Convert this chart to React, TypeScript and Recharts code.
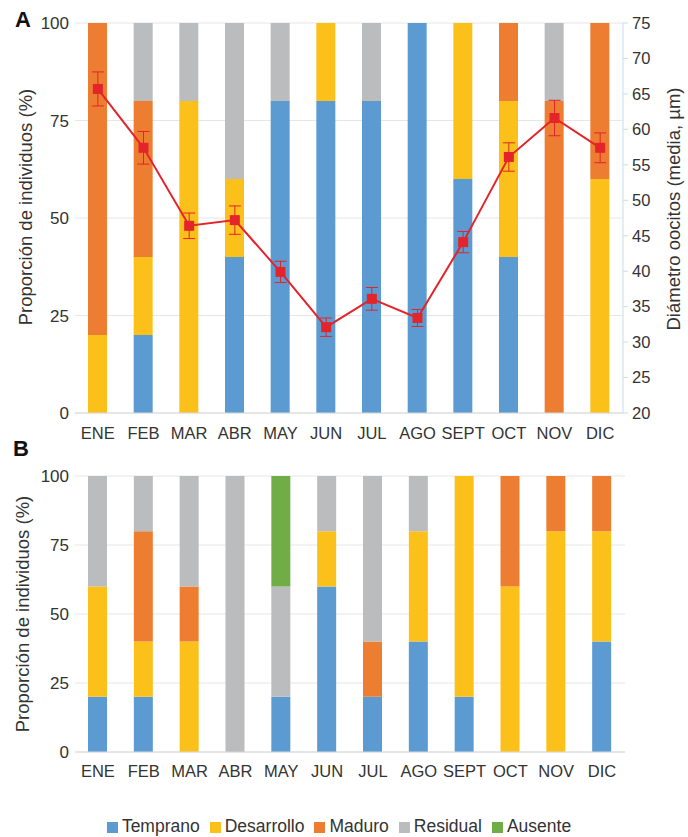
import React from 'react';
import {
  ComposedChart,
  BarChart,
  Bar,
  Line,
  XAxis,
  YAxis,
  CartesianGrid,
  Legend,
  ErrorBar,
} from 'recharts';

const months = ['ENE', 'FEB', 'MAR', 'ABR', 'MAY', 'JUN', 'JUL', 'AGO', 'SEPT', 'OCT', 'NOV', 'DIC'];

// Panel A: proportion per stage (%)
const tempranoA = [0, 20, 0, 40, 80, 80, 80, 100, 60, 40, 0, 0];
const desarrolloA = [20, 20, 80, 20, 0, 20, 0, 0, 40, 40, 0, 60];
const maduroA = [80, 40, 0, 0, 0, 0, 0, 0, 0, 20, 80, 40];
const residualA = [0, 20, 20, 40, 20, 0, 20, 0, 0, 0, 20, 0];
// Panel A: oocyte diameter (mean, µm) and error
const diametro = [65.7, 57.4, 46.4, 47.2, 39.9, 32.1, 36.1, 33.4, 44.1, 56.1, 61.6, 57.4];
const diametroErr = [2.4, 2.3, 1.8, 2.0, 1.5, 1.3, 1.6, 1.2, 1.5, 2.0, 2.5, 2.1];

// Panel B
const tempranoB = [20, 20, 0, 0, 20, 60, 20, 40, 20, 0, 0, 40];
const desarrolloB = [40, 20, 40, 0, 0, 20, 0, 40, 80, 60, 80, 40];
const maduroB = [0, 40, 20, 0, 0, 0, 20, 0, 0, 40, 20, 20];
const residualB = [40, 20, 40, 100, 40, 20, 60, 20, 0, 0, 0, 0];
const ausenteB = [0, 0, 0, 0, 40, 0, 0, 0, 0, 0, 0, 0];

const stages = ['Temprano', 'Desarrollo', 'Maduro', 'Residual', 'Ausente'];
const pctTicks = [0, 25, 50, 75, 100];
const diamTicks = [20, 25, 30, 35, 40, 45, 50, 55, 60, 65, 70, 75];

const dataA = months.map((m, i) => ({
  mes: m,
  Temprano: tempranoA[i],
  Desarrollo: desarrolloA[i],
  Maduro: maduroA[i],
  Residual: residualA[i],
  diametro: diametro[i],
  err: diametroErr[i],
}));

const dataB = months.map((m, i) => ({
  mes: m,
  Temprano: tempranoB[i],
  Desarrollo: desarrolloB[i],
  Maduro: maduroB[i],
  Residual: residualB[i],
  Ausente: ausenteB[i],
}));

const COLORS: Record<string, string> = {
  Temprano: '#5B9BD2',
  Desarrollo: '#FCC01A',
  Maduro: '#ED7D31',
  Residual: '#BBBCBE',
  Ausente: '#70AD47',
};
const RED = '#E3242B';
const FONT = '"Liberation Sans", Arial, sans-serif';
const TEXT = '#333333';

// rotated axis title; uses px/py so recharts' own x/y don't override it
const VLabel = (props: any) => {
  const { px, py, text } = props;
  return (
    <text
      x={px}
      y={py}
      transform={`rotate(-90, ${px}, ${py})`}
      textAnchor="middle"
      dominantBaseline="central"
      fontSize={18.5}
      fill={TEXT}
      fontFamily={FONT}
    >
      {text}
    </text>
  );
};

const SquareDot = (props: any) => {
  const { cx, cy, index } = props;
  return <rect key={`sq-${index}`} x={cx - 5} y={cy - 5} width={10} height={10} fill={RED} />;
};

export default function App() {
  return (
    <div style={{ position: 'absolute', left: 0, top: 0, width: 688, height: 837, background: '#fff', fontFamily: FONT }}>
      {/* Panel A */}
      <div style={{ position: 'absolute', left: 0, top: 0 }}>
        <ComposedChart width={688} height={446} data={dataA} margin={{ top: 23, right: 0, bottom: 6, left: 0 }}>
          <CartesianGrid yAxisId="left" vertical={false} stroke="#E6E6E6" />
          <XAxis
            dataKey="mes"
            height={27}
            tickLine={false}
            axisLine={{ stroke: '#D9D9D9' }}
            tickMargin={8}
            tick={{ fill: TEXT, fontSize: 16.5, fontFamily: FONT }}
          />
          <YAxis
            yAxisId="left"
            width={75}
            domain={[0, 100]}
            ticks={pctTicks}
            axisLine={false}
            tickLine={false}
            tickSize={0}
            tickMargin={6}
            tick={{ fill: TEXT, fontSize: 17, fontFamily: FONT }}
            label={<VLabel px={25} py={207} text="Proporción de individuos (%)" />}
          />
          <YAxis
            yAxisId="right"
            orientation="right"
            width={65}
            domain={[20, 75]}
            ticks={diamTicks}
            axisLine={{ stroke: '#C9DCEE' }}
            tickLine={{ stroke: '#C9DCEE' }}
            tickSize={5}
            tickMargin={4}
            tick={{ fill: TEXT, fontSize: 16.5, fontFamily: FONT }}
            label={<VLabel px={673} py={209} text="Diámetro oocitos (media, µm)" />}
          />
          <Bar yAxisId="left" dataKey="Temprano" stackId="a" fill={COLORS.Temprano} barSize={19} isAnimationActive={false} />
          <Bar yAxisId="left" dataKey="Desarrollo" stackId="a" fill={COLORS.Desarrollo} barSize={19} isAnimationActive={false} />
          <Bar yAxisId="left" dataKey="Maduro" stackId="a" fill={COLORS.Maduro} barSize={19} isAnimationActive={false} />
          <Bar yAxisId="left" dataKey="Residual" stackId="a" fill={COLORS.Residual} barSize={19} isAnimationActive={false} />
          <Line
            yAxisId="right"
            dataKey="diametro"
            stroke={RED}
            strokeWidth={2}
            dot={SquareDot}
            activeDot={false}
            isAnimationActive={false}
          >
            <ErrorBar dataKey="err" direction="y" width={6} stroke={RED} strokeWidth={1} isAnimationActive={false} />
          </Line>
        </ComposedChart>
      </div>
      <div style={{ position: 'absolute', left: 15, top: 7, fontSize: 22, fontWeight: 'bold', color: '#111' }}>A</div>

      {/* Panel B */}
      <div style={{ position: 'absolute', left: 0, top: 440 }}>
        <BarChart width={688} height={397} data={dataB} margin={{ top: 36, right: 63, bottom: 0, left: 0 }}>
          <CartesianGrid vertical={false} stroke="#E6E6E6" />
          <XAxis
            dataKey="mes"
            height={64}
            tickLine={false}
            axisLine={{ stroke: '#D9D9D9' }}
            tickMargin={7}
            tick={{ fill: TEXT, fontSize: 16.5, fontFamily: FONT }}
          />
          <YAxis
            width={75}
            domain={[0, 100]}
            ticks={pctTicks}
            axisLine={false}
            tickLine={false}
            tickSize={0}
            tickMargin={6}
            tick={{ fill: TEXT, fontSize: 17, fontFamily: FONT }}
            label={<VLabel px={22} py={174} text="Proporción de individuos (%)" />}
          />
          <Legend
            verticalAlign="bottom"
            iconType="square"
            iconSize={11}
            itemSorter={(item: any) => stages.indexOf(item.value)}
            wrapperStyle={{ fontSize: 17.5, fontFamily: FONT, color: TEXT, left: 0, width: 688 }}
            formatter={(v: string) => <span style={{ color: TEXT }}>{v}</span>}
          />
          <Bar dataKey="Temprano" stackId="b" fill={COLORS.Temprano} barSize={19} isAnimationActive={false} />
          <Bar dataKey="Desarrollo" stackId="b" fill={COLORS.Desarrollo} barSize={19} isAnimationActive={false} />
          <Bar dataKey="Maduro" stackId="b" fill={COLORS.Maduro} barSize={19} isAnimationActive={false} />
          <Bar dataKey="Residual" stackId="b" fill={COLORS.Residual} barSize={19} isAnimationActive={false} />
          <Bar dataKey="Ausente" stackId="b" fill={COLORS.Ausente} barSize={19} isAnimationActive={false} />
        </BarChart>
      </div>
      <div style={{ position: 'absolute', left: 13, top: 436, fontSize: 22, fontWeight: 'bold', color: '#111' }}>B</div>
    </div>
  );
}
